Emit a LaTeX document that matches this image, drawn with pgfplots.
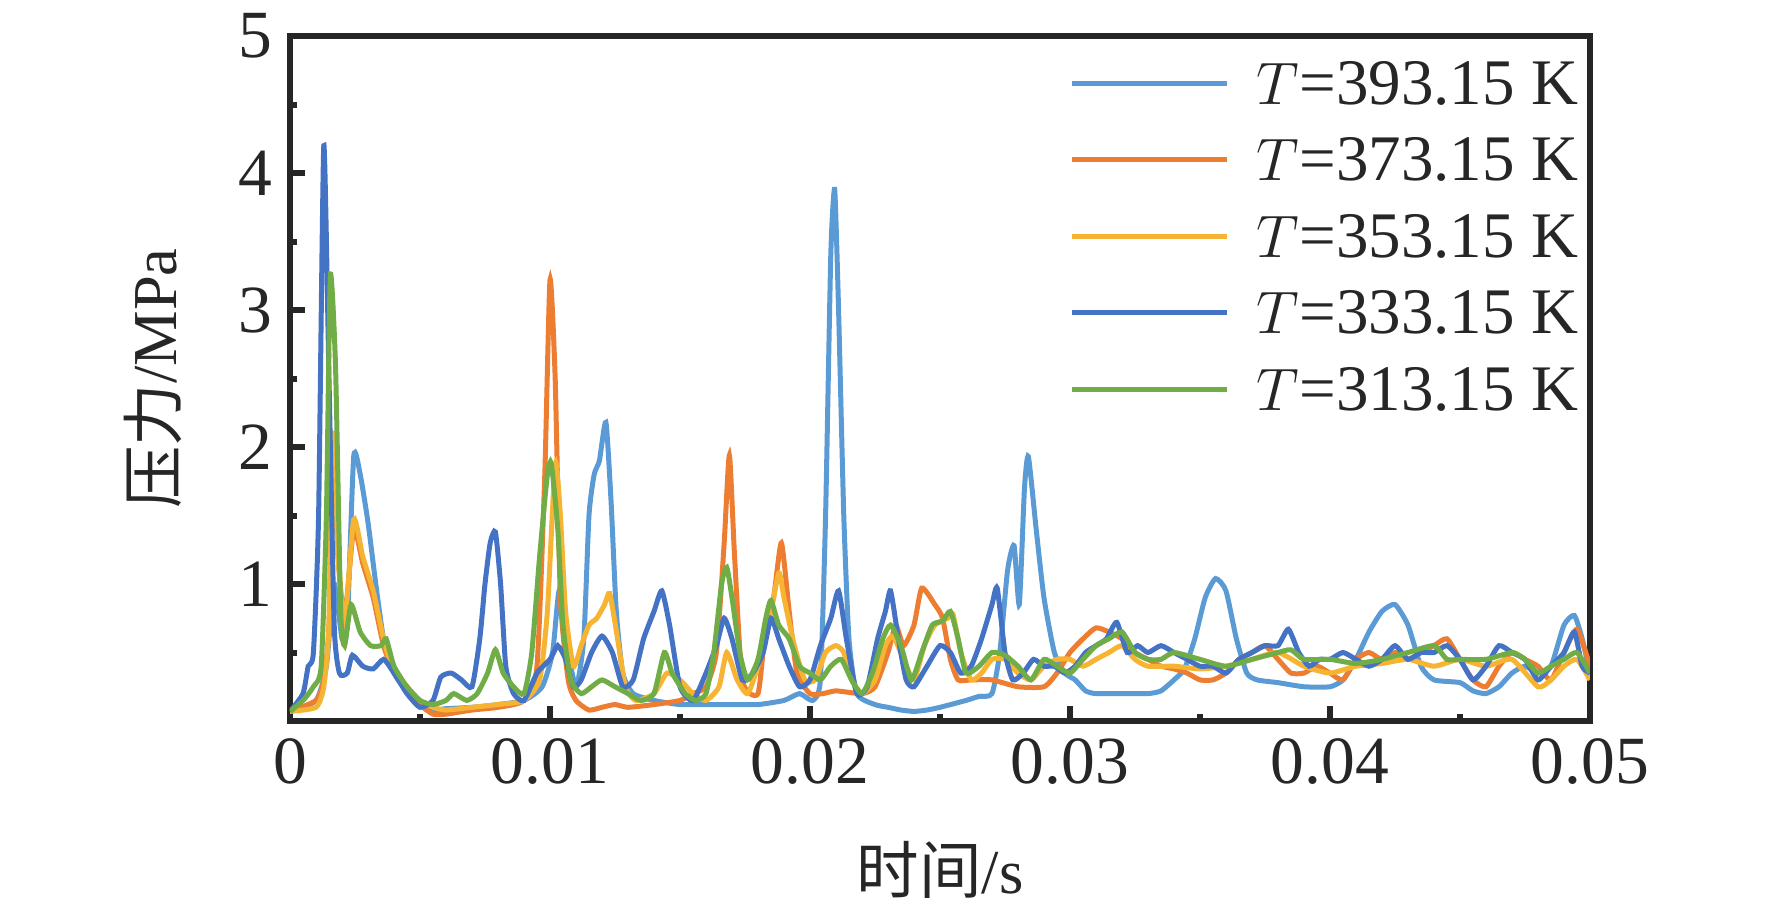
\documentclass[border=0pt]{standalone}
\usepackage{fontspec}
\setmainfont{Liberation Serif}
\newfontfamily\cjk{Noto Sans CJK SC}
\usepackage{pgfplots}
\pgfplotsset{compat=1.18}
\definecolor{cA}{RGB}{91,155,213}
\definecolor{cB}{RGB}{237,125,49}
\definecolor{cC}{RGB}{246,180,50}
\definecolor{cD}{RGB}{68,114,196}
\definecolor{cE}{RGB}{112,173,71}
\begin{document}
\begin{tikzpicture}
\begin{axis}[
  at={(0,0)}, anchor=south west,
  scale only axis, width=260pt, height=137pt,
  xmin=0, xmax=50, ymin=0, ymax=5,
  axis line style={line width=1.2pt, black!85},
  xtick={0,10,20,30,40,50},
  xticklabels={0,0.01,0.02,0.03,0.04,0.05},
  minor xtick={5,15,25,35,45},
  ytick={1,2,3,4,5},
  minor ytick={0.5,1.5,2.5,3.5,4.5},
  tick align=inside,
  xtick pos=bottom, ytick pos=left,
  major tick length=3pt, minor tick length=1.5pt,
  tick style={line width=1.2pt, black!85},
  /pgf/number format/assume math mode=true,
  ticklabel style={font=\fontsize{13.5}{16}\selectfont, text=black!85},
  xlabel={{\cjk 时间}/s},
  ylabel={{\cjk 压力}/MPa},
  label style={font=\fontsize{12.5}{15}\selectfont, text=black!85},
  xlabel style={at={(axis description cs:0.5,-0.2175)}, anchor=center},
  ylabel style={at={(axis description cs:-0.1054,0.5)}, anchor=center, rotate=0},
  legend style={at={(axis description cs:0.9954,0.975)}, anchor=north east,
    draw=none, fill=none, inner sep=0pt, row sep=4.3pt, column sep=4.5pt,
    font=\fontsize{13}{16}\selectfont,
    nodes={inner sep=1pt, text height=9pt, text depth=0pt, text=black!85}},
  legend cell align=left,
  legend image code/.code={\draw[#1, line width=1pt] (0pt,-0.3pt) -- (31pt,-0.3pt);},
  every axis plot/.append style={line width=1pt, smooth, tension=0.35},
]
% T=393.15 K
\addplot[cA] coordinates {
(0,0.07)(1.0,0.15)(1.4,0.4)(1.7,1.0)(2.0,0.6)(2.2,0.7)(2.45,1.93)(2.7,1.8)(3.0,1.45)(3.3,1.0)(3.6,0.6)(4.0,0.35)(4.5,0.22)(5.0,0.12)(5.5,0.08)(6,0.09)(7,0.1)(8,0.12)(9,0.15)(9.7,0.25)(10.1,0.5)(10.35,0.95)(10.6,0.6)(11.0,0.25)(11.3,0.6)(11.5,1.5)(11.7,1.8)(11.9,1.9)(12.15,2.18)(12.35,1.6)(12.55,0.8)(12.8,0.35)(13.2,0.2)(14,0.15)(15,0.12)(16,0.12)(17,0.12)(18,0.12)(19,0.15)(19.6,0.2)(20.1,0.15)(20.4,0.3)(20.6,1.5)(20.8,3.4)(20.95,3.88)(21.1,3.0)(21.3,1.5)(21.5,0.6)(21.8,0.2)(22.5,0.12)(23,0.1)(23.5,0.08)(24,0.07)(24.5,0.08)(25,0.1)(26,0.15)(26.5,0.18)(27,0.2)(27.3,0.5)(27.6,1.1)(27.85,1.28)(28.05,0.85)(28.25,1.7)(28.4,1.93)(28.7,1.4)(29.0,0.9)(29.4,0.5)(29.8,0.35)(30.2,0.3)(30.6,0.22)(31,0.2)(32,0.2)(33,0.2)(33.5,0.22)(34,0.3)(34.4,0.38)(34.8,0.6)(35.2,0.9)(35.6,1.04)(36.0,0.95)(36.4,0.6)(36.8,0.35)(37.2,0.3)(38,0.28)(39,0.25)(40,0.25)(40.5,0.3)(41,0.45)(41.5,0.65)(42,0.8)(42.5,0.85)(43,0.7)(43.5,0.4)(44,0.3)(45,0.28)(45.5,0.22)(46,0.2)(46.5,0.25)(47,0.35)(47.5,0.4)(48,0.35)(48.5,0.4)(49,0.7)(49.4,0.77)(49.7,0.6)(50,0.35)
};
\addlegendentry{$T$=393.15 K}
% T=373.15 K
\addplot[cB] coordinates {
(0,0.07)(1.0,0.15)(1.3,0.3)(1.5,0.7)(1.65,2.0)(1.85,1.2)(2.1,0.75)(2.45,1.4)(2.8,1.15)(3.2,0.9)(3.6,0.55)(4.0,0.35)(4.5,0.25)(5.0,0.12)(5.5,0.05)(6,0.05)(7,0.08)(8,0.1)(9,0.15)(9.5,0.4)(9.8,1.8)(10.0,3.22)(10.2,2.5)(10.4,0.9)(10.7,0.3)(11,0.15)(11.5,0.08)(12,0.1)(12.5,0.12)(13,0.1)(14,0.12)(15,0.15)(15.5,0.2)(16,0.25)(16.4,0.5)(16.7,1.3)(16.9,1.94)(17.1,1.2)(17.4,0.3)(18,0.2)(18.3,0.7)(18.6,0.9)(18.9,1.3)(19.2,0.8)(19.5,0.35)(20,0.2)(20.5,0.2)(21,0.22)(22,0.2)(22.5,0.25)(23,0.5)(23.3,0.7)(23.6,0.55)(24,0.7)(24.3,0.97)(24.8,0.85)(25.1,0.75)(25.4,0.45)(25.7,0.3)(26.2,0.3)(27,0.3)(28,0.25)(29,0.25)(29.5,0.35)(30,0.5)(30.5,0.6)(31,0.68)(31.5,0.65)(32,0.6)(32.5,0.5)(33,0.45)(33.5,0.4)(34,0.38)(34.5,0.35)(35,0.3)(35.5,0.3)(36,0.35)(36.5,0.45)(37,0.5)(37.5,0.55)(38,0.45)(38.5,0.35)(39,0.35)(39.5,0.4)(40,0.35)(40.5,0.3)(41,0.45)(41.5,0.5)(42,0.45)(42.5,0.5)(43,0.45)(43.5,0.5)(44,0.55)(44.5,0.6)(45,0.45)(45.5,0.3)(46,0.25)(46.5,0.4)(47,0.5)(47.5,0.45)(48,0.4)(48.5,0.3)(49,0.5)(49.5,0.67)(50,0.4)
};
\addlegendentry{$T$=373.15 K}
% T=353.15 K
\addplot[cC] coordinates {
(0,0.07)(1.0,0.1)(1.3,0.25)(1.5,0.7)(1.65,2.1)(1.85,1.2)(2.1,0.7)(2.45,1.47)(2.8,1.2)(3.2,0.95)(3.6,0.6)(4.0,0.35)(4.5,0.25)(5,0.15)(5.5,0.1)(6,0.08)(7,0.1)(8,0.12)(9,0.15)(9.6,0.3)(9.9,0.8)(10.2,1.88)(10.4,1.5)(10.6,0.8)(10.9,0.4)(11.2,0.55)(11.5,0.7)(11.8,0.75)(12.1,0.85)(12.3,0.93)(12.6,0.6)(12.9,0.25)(13.3,0.15)(14,0.2)(14.5,0.35)(15,0.3)(15.5,0.2)(16,0.15)(16.5,0.25)(16.8,0.5)(17.2,0.3)(17.6,0.2)(18.0,0.4)(18.4,0.7)(18.8,1.08)(19.0,0.9)(19.4,0.55)(19.8,0.3)(20.2,0.3)(20.6,0.5)(21,0.55)(21.3,0.5)(21.6,0.3)(22,0.2)(22.5,0.3)(22.9,0.55)(23.2,0.62)(23.6,0.45)(24,0.3)(24.4,0.55)(24.8,0.7)(25.3,0.75)(25.5,0.78)(25.8,0.5)(26.2,0.3)(26.6,0.35)(27,0.45)(27.5,0.45)(28,0.35)(28.5,0.3)(29,0.4)(29.5,0.45)(30,0.45)(30.5,0.4)(31,0.45)(31.5,0.5)(32,0.55)(32.5,0.45)(33,0.4)(34,0.4)(35,0.38)(36,0.4)(37,0.45)(38,0.5)(39,0.4)(40,0.35)(41,0.4)(42,0.42)(43,0.45)(44,0.4)(45,0.45)(46,0.4)(47,0.45)(48,0.25)(48.5,0.3)(49,0.4)(49.5,0.45)(50,0.3)
};
\addlegendentry{$T$=353.15 K}
% T=333.15 K
\addplot[cD] coordinates {
(0,0.07)(0.5,0.2)(0.7,0.4)(0.9,0.5)(1.1,1.5)(1.3,4.2)(1.5,2.5)(1.7,0.7)(1.9,0.35)(2.2,0.35)(2.4,0.48)(2.8,0.4)(3.2,0.38)(3.6,0.45)(4.0,0.35)(4.5,0.2)(5,0.1)(5.5,0.15)(5.8,0.32)(6.2,0.35)(6.6,0.3)(7.0,0.25)(7.3,0.6)(7.5,1.0)(7.7,1.3)(7.9,1.38)(8.1,1.0)(8.3,0.4)(8.6,0.2)(9.0,0.15)(9.5,0.35)(10,0.45)(10.3,0.55)(10.6,0.45)(10.9,0.25)(11.2,0.3)(11.6,0.5)(12.0,0.62)(12.4,0.5)(12.8,0.25)(13.2,0.3)(13.6,0.6)(14.0,0.8)(14.3,0.95)(14.6,0.7)(15.0,0.25)(15.5,0.15)(16.0,0.35)(16.4,0.55)(16.7,0.75)(17.0,0.6)(17.4,0.3)(17.8,0.35)(18.2,0.5)(18.5,0.75)(18.8,0.6)(19.2,0.4)(19.6,0.25)(20.0,0.3)(20.4,0.55)(20.8,0.75)(21.1,0.95)(21.4,0.6)(21.8,0.2)(22.2,0.25)(22.6,0.6)(22.9,0.8)(23.1,0.95)(23.4,0.6)(23.7,0.3)(24.0,0.25)(24.5,0.4)(25,0.55)(25.4,0.5)(25.8,0.35)(26.2,0.4)(26.6,0.6)(27.0,0.85)(27.2,0.97)(27.5,0.5)(27.8,0.3)(28.2,0.35)(28.6,0.45)(29.0,0.4)(29.4,0.4)(29.8,0.35)(30.2,0.4)(30.6,0.5)(31.0,0.55)(31.4,0.6)(31.8,0.72)(32.2,0.5)(32.6,0.55)(33,0.5)(33.5,0.55)(34,0.5)(34.5,0.45)(35,0.4)(35.5,0.4)(36,0.35)(36.5,0.45)(37,0.5)(37.5,0.55)(38,0.55)(38.4,0.67)(38.8,0.5)(39.2,0.4)(39.6,0.45)(40,0.45)(40.5,0.5)(41,0.45)(41.5,0.4)(42,0.45)(42.5,0.55)(43,0.45)(43.5,0.5)(44,0.5)(44.5,0.55)(45,0.45)(45.5,0.3)(46,0.4)(46.5,0.55)(47,0.5)(47.5,0.45)(48,0.3)(48.5,0.4)(49,0.5)(49.4,0.65)(49.7,0.4)(50,0.35)
};
\addlegendentry{$T$=333.15 K}
% T=313.15 K
\addplot[cE] coordinates {
(0,0.07)(0.5,0.15)(0.9,0.25)(1.2,0.4)(1.4,1.5)(1.55,3.25)(1.75,2.6)(1.95,0.8)(2.1,0.55)(2.35,0.85)(2.7,0.65)(3.1,0.55)(3.5,0.55)(3.7,0.6)(4.0,0.4)(4.5,0.25)(5,0.15)(5.5,0.12)(6.0,0.15)(6.3,0.2)(6.8,0.15)(7.2,0.2)(7.6,0.35)(7.9,0.52)(8.2,0.35)(8.6,0.25)(9.0,0.2)(9.3,0.5)(9.6,1.2)(9.9,1.8)(10.05,1.88)(10.3,1.4)(10.5,0.7)(10.8,0.3)(11.2,0.2)(11.6,0.25)(12,0.3)(12.5,0.25)(13,0.2)(13.5,0.15)(14,0.2)(14.4,0.5)(14.7,0.35)(15.2,0.2)(15.6,0.15)(16,0.2)(16.3,0.5)(16.6,1.0)(16.8,1.12)(17.0,0.9)(17.3,0.5)(17.6,0.3)(18.0,0.45)(18.3,0.75)(18.5,0.88)(18.8,0.7)(19.2,0.6)(19.6,0.4)(20.0,0.35)(20.4,0.3)(20.8,0.4)(21.2,0.45)(21.6,0.3)(22.0,0.2)(22.4,0.35)(22.8,0.6)(23.1,0.7)(23.5,0.55)(23.9,0.3)(24.3,0.5)(24.7,0.7)(25.1,0.73)(25.4,0.8)(25.7,0.6)(26.0,0.35)(26.5,0.4)(27,0.5)(27.5,0.48)(28,0.4)(28.5,0.3)(29,0.45)(29.5,0.4)(30,0.35)(30.5,0.45)(31,0.55)(31.5,0.6)(32,0.65)(32.5,0.5)(33,0.45)(33.5,0.45)(34,0.5)(35,0.45)(36,0.4)(37,0.45)(38,0.5)(38.5,0.52)(39,0.45)(40,0.45)(41,0.42)(42,0.45)(43,0.5)(44,0.55)(44.5,0.45)(45,0.45)(46,0.45)(47,0.5)(47.5,0.45)(48,0.35)(48.5,0.4)(49,0.45)(49.5,0.5)(50,0.35)
};
\addlegendentry{$T$=313.15 K}
\end{axis}
\pgfresetboundingbox
\useasboundingbox (-58pt,-38.4pt) rectangle (296.4pt,144.2pt);
\end{tikzpicture}
\end{document}
